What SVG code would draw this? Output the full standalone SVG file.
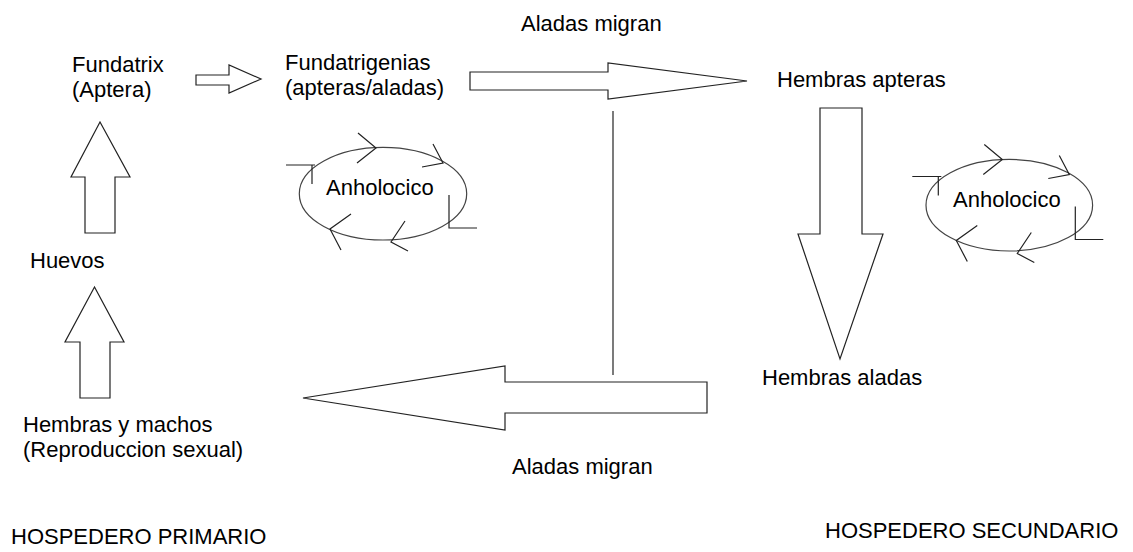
<svg xmlns="http://www.w3.org/2000/svg" width="1133" height="552" viewBox="0 0 1133 552">
<style>
text{font-family:"Liberation Sans",Arial,sans-serif;font-size:22px;fill:#000}
.arr{fill:#fff;stroke:#222;stroke-width:1.2;stroke-linejoin:miter}
.ln{fill:none;stroke:#222;stroke-width:1.2}
.ell{fill:none;stroke:#444;stroke-width:1.2}
</style>
<rect width="1133" height="552" fill="#fff"/>
<g id="connectors">
<polygon class="arr" points="100,122 71,177 85,177 85,233 115,233 115,177 130,177"/>
<polygon class="arr" points="94.5,287 65,342 80,342 80,398 110,398 110,342 124,342"/>
<polygon class="arr" points="196,75 229,75 229,65 261,79 229,93 229,85 196,85"/>
<polygon class="arr" points="470,72 608,72 608,63 747,81 608,99 608,90 470,90"/>
<polygon class="arr" points="820,108 862,108 862,234 883,234 840,359 798,234 820,234"/>
<polygon class="arr" points="303,398 505,366 505,382 707,382 707,413 505,413 505,430"/>
<line class="ln" x1="613" y1="111" x2="613" y2="375"/>
</g>
<g id="fundatrix">
<text x="72" y="72">Fundatrix</text>
<text x="72" y="96.5">(Aptera)</text>
</g>
<g id="fundatrigenias">
<text x="285" y="70">Fundatrigenias</text>
<text x="285" y="94.5">(apteras/aladas)</text>
</g>
<g id="aladas-migran-top"><text x="521" y="31">Aladas migran</text></g>
<g id="hembras-apteras"><text x="777" y="87">Hembras apteras</text></g>
<g id="anholocico-1">
<ellipse class="ell" cx="383" cy="193.7" rx="83.7" ry="46.3"/>
<path class="ln" d="M286,165H315M312,165V184M358,133L376,148L357,163M433,144L443,163L422,167M449,195V228H477M405,221L391,242L408,251M351,214L330,229L341,250"/>
<text x="326" y="195">Anholocico</text>
</g>
<g id="anholocico-2">
<ellipse class="ell" cx="1009.3" cy="205.2" rx="83.3" ry="45.8"/>
<path class="ln" transform="translate(626.3,11.5)" d="M286,165H315M312,165V184M358,133L376,148L357,163M433,144L443,163L422,167M449,195V228H477M405,221L391,242L408,251M351,214L330,229L341,250"/>
<text x="953" y="207">Anholocico</text>
</g>
<g id="huevos"><text x="30" y="268">Huevos</text></g>
<g id="hembras-machos">
<text x="23" y="432">Hembras y machos</text>
<text x="23" y="456.5">(Reproduccion sexual)</text>
</g>
<g id="hembras-aladas"><text x="762" y="385">Hembras aladas</text></g>
<g id="aladas-migran-bottom"><text x="512" y="474">Aladas migran</text></g>
<g id="hospedero-primario"><text x="11" y="543.5">HOSPEDERO PRIMARIO</text></g>
<g id="hospedero-secundario"><text x="825" y="538">HOSPEDERO SECUNDARIO</text></g>
</svg>
